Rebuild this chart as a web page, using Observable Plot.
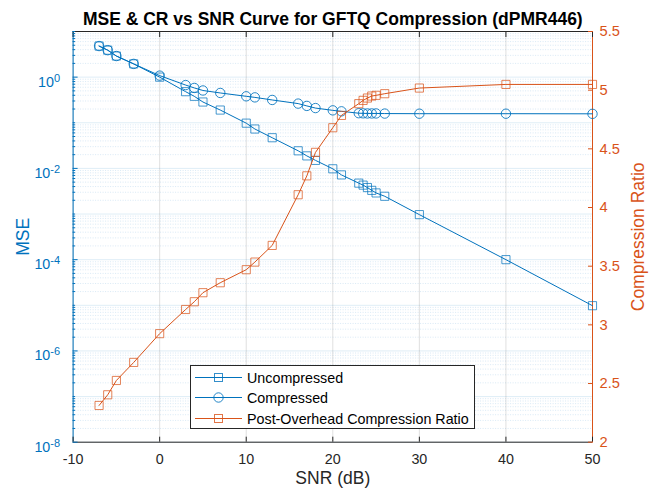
<!DOCTYPE html>
<html><head><meta charset="utf-8">
<script src="https://cdn.jsdelivr.net/npm/d3@7"></script>
<script src="https://cdn.jsdelivr.net/npm/@observablehq/plot@0.6"></script>
<style>
body{margin:0;background:#fff;}
#wrap{position:relative;width:656px;height:489px;font-family:"Liberation Sans",Arial,Helvetica,sans-serif;}
#legend{position:absolute;left:190px;top:365px;width:285px;height:64px;border:1px solid #262626;background:#fff;box-sizing:border-box;}
#legend .row{position:absolute;left:0;height:16px;}
#legend svg{position:absolute;left:4px;top:0;overflow:visible;}
#legend span{position:absolute;left:56px;top:0;font-size:14.3px;line-height:16px;white-space:nowrap;color:#000;}
</style></head>
<body><div id="wrap"></div>
<script>
// ---- data ----
const snr = [-7,-6,-5,-3,0,3,4,5,7,10,11,13,16,17,18,20,21,23,23.5,24,24.5,25,26,30,40,50];
const mseUncompressed = [4.8,3.9,2.9,1.95,1.0,0.48,0.38,0.285,0.19,0.098,0.073,0.047,0.0243,0.0188,0.015,0.0098,0.0072,0.00475,0.0043,0.0038,0.0033,0.0029,0.00245,0.00097,1.0e-4,9.8e-6];
const mseCompressed = [4.8,3.9,2.9,1.95,1.08,0.67,0.58,0.51,0.45,0.38,0.36,0.316,0.263,0.234,0.21,0.187,0.178,0.162,0.161,0.16,0.16,0.16,0.159,0.158,0.158,0.157];
const compressionRatio = [2.313,2.404,2.526,2.68,2.925,3.131,3.197,3.274,3.359,3.47,3.535,3.677,4.109,4.27,4.47,4.68,4.785,4.885,4.913,4.933,4.95,4.956,4.97,5.018,5.049,5.049];

const xTicks = [-10,0,10,20,30,40,50];
const mseLabelExponents = [-8,-6,-4,-2,0];
const mseDecadeExponents = [-8,-7,-6,-5,-4,-3,-2,-1,0,1];
const crTicks = [2,2.5,3,3.5,4,4.5,5,5.5];
const seriesNames = ["Uncompressed","Compressed","Post-Overhead Compression Ratio"];

const title = "MSE & CR vs SNR Curve for GFTQ Compression (dPMR446)";
const xLabel = "SNR (dB)";
const yLabelLeft = "MSE";
const yLabelRight = "Compression Ratio";

// ---- styling ----
const BLUE = "#0072BD", ORANGE = "#D95319", DARK = "#262626";
const W = 656, H = 489;
const mL = 72.6, mR = 64, mT = 31, mB = 47.3;
const TICK_FS = 14.3, LABEL_FS = 17.5, TITLE_FS = 17.5;
const crMin = 2, crMax = 5.5, logMin = -8, logMax = 1;
const crToY = c => Math.pow(10, logMin + (c - crMin) / (crMax - crMin) * (logMax - logMin));

const decades = mseDecadeExponents.map(e => Math.pow(10, e));
const labelled = mseLabelExponents.map(e => Math.pow(10, e));
const minor = [];
mseDecadeExponents.slice(0, -1).forEach(e => { for (let m = 2; m <= 9; m++) minor.push(m * Math.pow(10, e)); });
const minorTicks = decades.filter(v => !labelled.includes(v)).concat(minor);

const unc = snr.map((s, i) => ({x: s, y: mseUncompressed[i]}));
const cmp = snr.map((s, i) => ({x: s, y: mseCompressed[i]}));
const cr = snr.map((s, i) => ({x: s, y: crToY(compressionRatio[i])}));

const chart = Plot.plot({
  width: W, height: H,
  marginLeft: mL, marginRight: mR, marginTop: mT, marginBottom: mB,
  style: {fontFamily: '"Liberation Sans", Arial, Helvetica, sans-serif', fontSize: "14px", background: "#fff", overflow: "visible"},
  x: {domain: [-10, 50]},
  y: {type: "log", domain: [1e-8, 10]},
  marks: [
    Plot.ruleY(minor, {stroke: BLUE, strokeOpacity: 0.22, strokeDasharray: "1,1.5", strokeWidth: 0.7}),
    Plot.ruleY(decades, {stroke: BLUE, strokeOpacity: 0.13}),
    Plot.ruleX(xTicks, {stroke: DARK, strokeOpacity: 0.14}),
    // box
    Plot.ruleY([1e-8], {stroke: DARK}),
    Plot.ruleY([10], {stroke: DARK}),
    Plot.ruleX([-10], {stroke: BLUE}),
    Plot.ruleX([50], {stroke: ORANGE}),
    // series
    Plot.line(unc, {x: "x", y: "y", stroke: BLUE, strokeWidth: 1}),
    Plot.dot(unc, {x: "x", y: "y", symbol: "square", r: 4.6, stroke: BLUE, fill: "none", strokeWidth: 1, strokeOpacity: 0.72}),
    Plot.line(cmp, {x: "x", y: "y", stroke: BLUE, strokeWidth: 1}),
    Plot.dot(cmp, {x: "x", y: "y", symbol: "circle", r: 4.7, stroke: BLUE, fill: "none", strokeWidth: 1, strokeOpacity: 0.85}),
    Plot.line(cr, {x: "x", y: "y", stroke: ORANGE, strokeWidth: 1}),
    Plot.dot(cr, {x: "x", y: "y", symbol: "square", r: 4.6, stroke: ORANGE, fill: "none", strokeWidth: 1, strokeOpacity: 0.72}),
    // x axis
    Plot.axisX({anchor: "bottom", ticks: xTicks, tickSize: 0, tickPadding: 11.5, tickFormat: d => String(d), fill: DARK, fontSize: TICK_FS, label: null}),
    Plot.axisX({anchor: "bottom", ticks: xTicks, tickSize: -5, tickFormat: () => "", stroke: DARK, label: null}),
    Plot.axisX({anchor: "top", ticks: xTicks, tickSize: -5, tickFormat: () => "", stroke: DARK, label: null}),
    // left y axis
    Plot.axisY({anchor: "left", ticks: labelled, tickSize: 0, tickPadding: 13, tickFormat: v => "10^" + Math.round(Math.log10(v)), fill: BLUE, fontSize: TICK_FS, label: null}),
    Plot.axisY({anchor: "left", ticks: labelled, tickSize: -5, tickFormat: () => "", stroke: BLUE, label: null}),
    Plot.axisY({anchor: "left", ticks: minorTicks, tickSize: -2.5, tickFormat: () => "", stroke: BLUE, label: null}),
    // right y axis (compression ratio mapped onto the shared vertical scale)
    Plot.axisY({anchor: "right", ticks: crTicks.map(crToY), tickSize: -5, tickFormat: () => "", stroke: ORANGE, label: null}),
    Plot.text(crTicks, {y: d => crToY(d), text: d => String(d), frameAnchor: "right", textAnchor: "start", lineAnchor: "middle", dx: 7, fill: ORANGE, fontSize: TICK_FS + 0.4}),
    // labels
    Plot.text([title], {frameAnchor: "top", textAnchor: "middle", lineAnchor: "middle", dy: -12.5, fontWeight: "bold", fontSize: TITLE_FS, fill: "#000"}),
    Plot.text([xLabel], {frameAnchor: "bottom", textAnchor: "middle", lineAnchor: "middle", dy: 36.5, fontSize: LABEL_FS, fill: DARK}),
    Plot.text([yLabelLeft], {frameAnchor: "left", textAnchor: "middle", lineAnchor: "middle", dx: -50, rotate: -90, fontSize: LABEL_FS, fill: BLUE}),
    Plot.text([yLabelRight], {frameAnchor: "right", textAnchor: "middle", lineAnchor: "middle", dx: 46, rotate: -90, fontSize: LABEL_FS, fill: ORANGE})
  ]
});

// superscript exponents on the log axis labels
chart.querySelectorAll("text").forEach(t => {
  const m = t.textContent.match(/^10\^(-?\d+)$/);
  if (!m) return;
  t.textContent = "";
  const ns = "http://www.w3.org/2000/svg";
  const base = document.createElementNS(ns, "tspan");
  base.setAttribute("dy", "4.8");
  base.textContent = "10";
  const sup = document.createElementNS(ns, "tspan");
  sup.setAttribute("dy", "-5");
  sup.setAttribute("font-size", "11");
  sup.textContent = m[1];
  t.appendChild(base); t.appendChild(sup);
});

const wrap = document.getElementById("wrap");
wrap.appendChild(chart);

// legend
const legend = document.createElement("div");
legend.id = "legend";
const legendStyles = [
  {color: BLUE, symbol: "square"},
  {color: BLUE, symbol: "circle"},
  {color: ORANGE, symbol: "square"}
];
seriesNames.forEach((name, i) => {
  const row = document.createElement("div");
  row.className = "row";
  row.style.top = (4 + i * 20.3) + "px";
  const st = legendStyles[i];
  const mk = st.symbol === "square"
    ? `<rect x="19.5" y="3.5" width="8" height="8" fill="none" stroke="${st.color}" stroke-opacity="0.8"/>`
    : `<circle cx="23.5" cy="7.5" r="4.7" fill="none" stroke="${st.color}" stroke-opacity="0.85"/>`;
  row.innerHTML = `<svg width="48" height="16"><line x1="0" x2="47" y1="7.5" y2="7.5" stroke="${st.color}" stroke-width="1"/>${mk}</svg><span>${name}</span>`;
  legend.appendChild(row);
});
wrap.appendChild(legend);
</script>
</body></html>
